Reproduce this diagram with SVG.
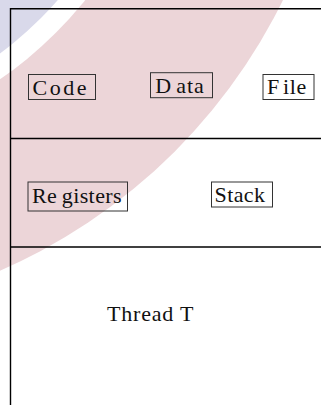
<svg xmlns="http://www.w3.org/2000/svg" width="321" height="405" viewBox="0 0 321 405">
<style>
.lbl{font-family:"Liberation Serif","Times New Roman",serif;font-size:22px;fill:#111}
.box{fill:none;stroke:#333;stroke-width:1}
.frame{stroke:#000;stroke-width:1.4;fill:none}
</style>
<rect width="321" height="405" fill="#fff"/>
<g id="background">
<circle cx="-227" cy="-250" r="568" fill="#ecd5d8"/>
<circle cx="-227" cy="-250" r="400" fill="#fff"/>
<circle cx="-227" cy="-250" r="379" fill="#d9d9ea"/>
</g>
<g id="frame">
<line class="frame" x1="10.5" y1="8.7" x2="321" y2="8.7"/>
<line class="frame" x1="10.5" y1="8" x2="10.5" y2="405"/>
<line class="frame" x1="10.5" y1="138.5" x2="321" y2="138.5"/>
<line class="frame" x1="10.5" y1="247" x2="321" y2="247"/>
</g>
<g id="connectors"/>
<g id="code">
<rect class="box" x="28.5" y="74.5" width="67" height="25"/>
<text class="lbl" x="32.5" y="95" letter-spacing="2.5">Code</text>
</g>
<g id="data">
<rect class="box" x="150.5" y="72.7" width="62" height="25"/>
<text class="lbl" x="155.3" y="93.2" letter-spacing="1">D<tspan dx="4">ata</tspan></text>
</g>
<g id="file">
<rect class="box" x="263" y="74.5" width="51" height="25"/>
<text class="lbl" x="267" y="94.3" letter-spacing="0.6">F<tspan dx="3.2">ile</tspan></text>
</g>
<g id="registers">
<rect class="box" x="28" y="182" width="99.5" height="29"/>
<text class="lbl" x="32" y="202.7" letter-spacing="0.4">Re<tspan dx="4.5">gisters</tspan></text>
</g>
<g id="stack">
<rect class="box" x="211.5" y="182" width="61" height="25"/>
<text class="lbl" x="214.5" y="202.3" letter-spacing="0.4">Stack</text>
</g>
<g id="thread">
<text class="lbl" x="107" y="321" letter-spacing="0.8">Thread T</text>
</g>
</svg>
